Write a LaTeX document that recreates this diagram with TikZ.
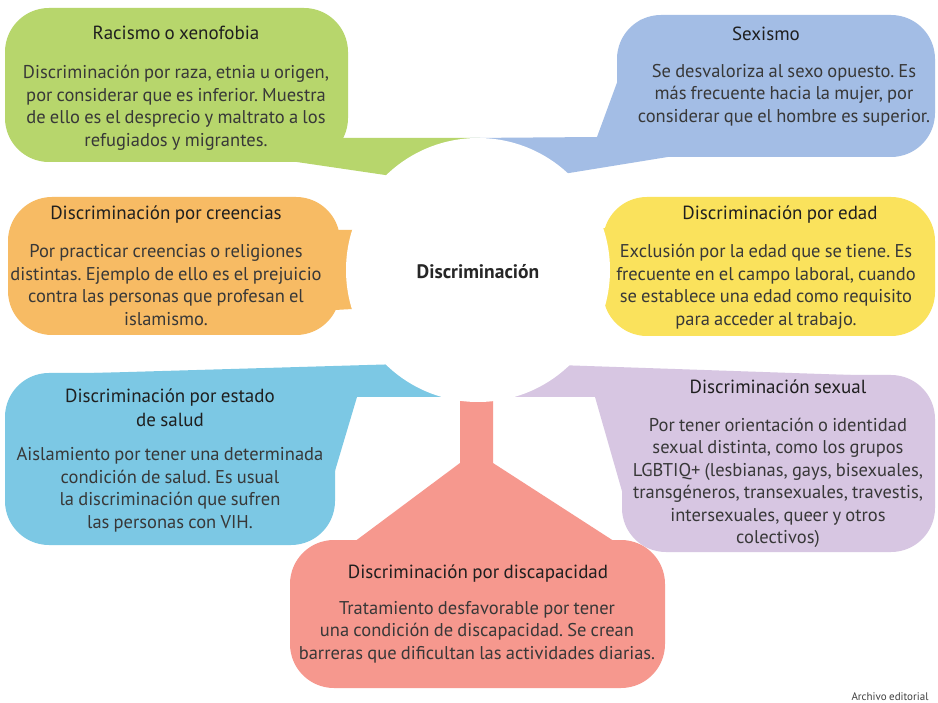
\documentclass[tikz,border=0pt]{standalone}
\usepackage{fontspec}
\setmainfont{PT Sans}[WordSpace=0.85]
\frenchspacing
\usepackage{tikz}
\usetikzlibrary{positioning}
\definecolor{cgreen}{RGB}{183,214,108}
\definecolor{cblue}{RGB}{163,189,229}
\definecolor{corange}{RGB}{247,187,100}
\definecolor{cyellow}{RGB}{250,226,92}
\definecolor{ccyan}{RGB}{124,200,228}
\definecolor{cpurple}{RGB}{215,198,226}
\definecolor{cred}{RGB}{246,152,142}
\colorlet{ink}{black!78}
\tikzstyle{bubble}=[rounded corners=44]
\tikzstyle{title}=[inner sep=0,align=center,text=black!88,font=\fontsize{19}{24}\selectfont]
\tikzstyle{body}=[inner sep=0,align=center,text=ink,font=\fontsize{18.5}{22.5}\selectfont]

\begin{document}
\begin{tikzpicture}[x=1pt,y=-1pt]

% Background
\fill[white] (0,0) rectangle (938,703);
\useasboundingbox (0,0) rectangle (938,703);

% Tails
\fill[cgreen] (300,138) -- (480,138) -- (480,220) -- (392,176) -- (290,161) -- cycle;
\fill[cblue] (470,138) -- (597,137) -- (640,20) -- (700,20) -- (680,155) -- (563,174) -- (470,200) -- cycle;
\fill[corange] (300,230) -- (370,230) -- (370,308) -- (300,312) -- cycle;
\fill[cyellow] (590,228) -- (660,228) -- (660,300) -- (590,300) -- cycle;
\fill[ccyan] (60,374) -- (470,362) -- (470,397) -- (357,397) -- (318,528) -- cycle;
\fill[cpurple] (470,362) -- (880,376) -- (880,450) -- (636,540) -- (595,397) -- (470,397) -- cycle;
\fill[cred] (460,380) -- (493,380) -- (493,463) -- (620,545) -- (350,545) -- (460,463) -- cycle;

% Boxes
\fill[cgreen,bubble] (5,8) rectangle (348,162);
\fill[cblue,bubble] (617,15) rectangle (935,157);
\fill[corange,bubble] (8,197) rectangle (340,335);
\fill[cyellow,bubble] (603,197) rectangle (935,336);
\fill[ccyan,bubble] (5,373) rectangle (335,545);
\fill[cpurple,bubble] (622,375) rectangle (935,552);
\fill[cred,bubble] (290,540) rectangle (665,688);

% Centre
\fill[white] (478,270) circle (132);
\node[inner sep=0,font=\fontsize{19.5}{22}\bfseries,text=black!85] (centre) at (478,272) {Discriminación};

% Racismo
\node[title] (racismo-t) at (176,33) {Racismo o xenofobia};
\node[body] (racismo) at (176,108) {Discriminación por raza, etnia u origen,\\ por considerar que es inferior. Muestra\\ de ello es el desprecio y maltrato a los\\ refugiados y migrantes.};

% Sexismo
\node[title] (sexismo-t) at (766,34) {Sexismo};
\node[body] (sexismo) at (784,95) {Se desvaloriza al sexo opuesto. Es\\ más frecuente hacia la mujer, por\\ considerar que el hombre es superior.};

% Creencias
\node[title] (creencias-t) at (166,215) {Discriminación por creencias};
\node[body] (creencias) at (166,285) {Por practicar creencias o religiones\\ distintas. Ejemplo de ello es el prejuicio\\ contra las personas que profesan el\\ islamismo.};

% Edad
\node[title] (edad-t) at (780,215) {Discriminación por edad};
\node[body] (edad) at (766,287) {Exclusión por la edad que se tiene. Es\\ frecuente en el campo laboral, cuando\\ se establece una edad como requisito\\ para acceder al trabajo.};

% Salud
\node[title] (salud-t) at (170,408) {Discriminación por estado\\ de salud};
\node[body] (salud) at (170,490) {Aislamiento por tener una determinada\\ condición de salud. Es usual\\ la discriminación que sufren\\ las personas con VIH.};

% Sexual
\node[title] (sexual-t) at (778,387) {Discriminación sexual};
\node[body] (sexual) at (778,483) {Por tener orientación o identidad\\ sexual distinta, como los grupos\\ LGBTIQ+ (lesbianas, gays, bisexuales,\\ transgéneros, transexuales, travestis,\\ intersexuales, queer y otros\\ colectivos)};

% Discapacidad
\node[title] (discapacidad-t) at (478,574) {Discriminación por discapacidad};
\node[body] (discapacidad) at (477,632) {Tratamiento desfavorable por tener\\ una condición de discapacidad. Se crean\\ barreras que dificultan las actividades diarias.};

% Credit
\node[inner sep=0,font=\fontsize{11}{12}\selectfont,text=black!75] (credito) at (890,697) {Archivo editorial};

\end{tikzpicture}
\end{document}
